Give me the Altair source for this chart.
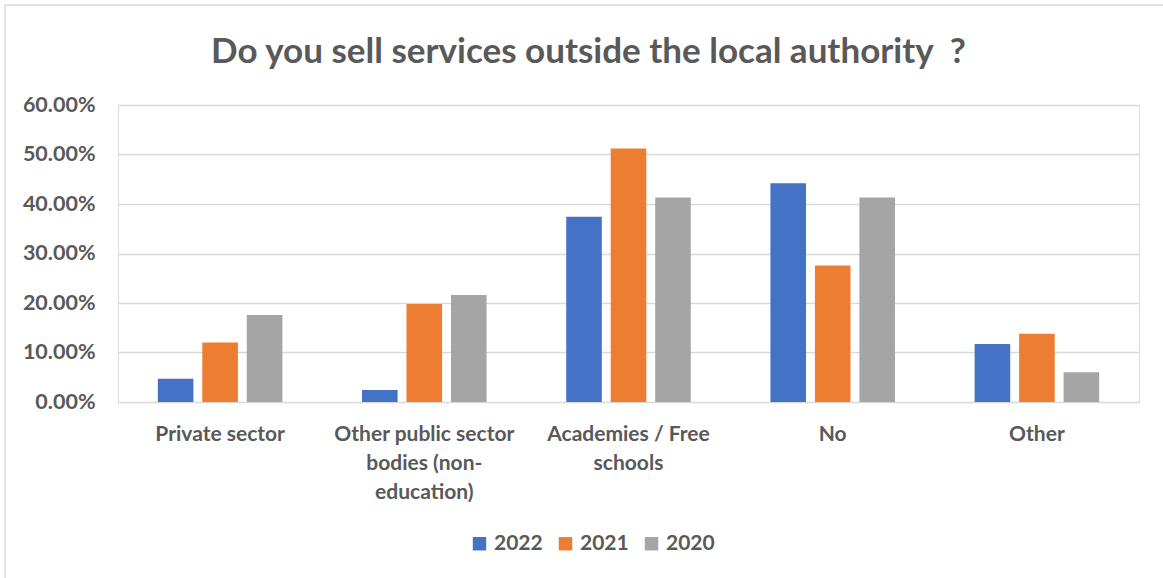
import altair as alt
import pandas as pd
import json

categories = ["Private sector", "Other public sector bodies (non-education)",
              "Academies / Free schools", "No", "Other"]
label_lines = [["Private sector"], ["Other public sector", "bodies (non-", "education)"],
               ["Academies / Free", "schools"], ["No"], ["Other"]]
years = ["2022", "2021", "2020"]
v2022 = [4.7, 2.4, 37.4, 44.2, 11.7]
v2021 = [12.0, 19.8, 51.2, 27.6, 13.8]
v2020 = [17.6, 21.6, 41.3, 41.3, 6.0]
colors = ["#4472C4", "#ED7D31", "#A5A5A5"]
y_ticks = [0, 0.1, 0.2, 0.3, 0.4, 0.5, 0.6]
title_text = "Do you sell services outside the local authority\u00a0 ?"

rows = []
for yr, vals in zip(years, [v2022, v2021, v2020]):
    for c, v in zip(categories, vals):
        rows.append({"category": c, "year": yr, "value": v / 100})
df = pd.DataFrame(rows)

parts = []
for c, lines in zip(categories, label_lines):
    parts.append(f"datum.value == {json.dumps(c)} ? {json.dumps(lines)} : ")
label_expr = "".join(parts) + "datum.value"

FONT = "Lato"
TXT = "#595959"
GRID = "#D9D9D9"

bars = alt.Chart(df).mark_bar().encode(
    x=alt.X("category:N", sort=categories, title=None,
            scale=alt.Scale(paddingInner=0.39, paddingOuter=0.195),
            axis=alt.Axis(labelAngle=0, domain=False, ticks=False, labelExpr=label_expr,
                          labelFont=FONT, labelFontSize=21, labelFontWeight="bold",
                          labelColor=TXT, labelPadding=21, labelLineHeight=29,
                          labelBaseline="top", labelLimit=300)),
    xOffset=alt.XOffset("year:N", sort=years, scale=alt.Scale(paddingInner=0.2, paddingOuter=0)),
    y=alt.Y("value:Q", title=None,
            scale=alt.Scale(domain=[0, 0.6], nice=False),
            axis=alt.Axis(values=y_ticks, format=".2%", domain=False, ticks=False,
                          labelFont=FONT, labelFontSize=21.5, labelFontWeight="bold",
                          labelColor=TXT, labelPadding=23, gridColor=GRID, gridWidth=1.5)),
    color=alt.Color("year:N", sort=years,
                    scale=alt.Scale(domain=years, range=colors),
                    legend=alt.Legend(title=None, orient="none", direction="horizontal",
                                      legendX=351, legendY=428, symbolType="square",
                                      symbolSize=180, symbolStrokeWidth=0,
                                      labelFont=FONT, labelFontSize=21, labelFontWeight="bold",
                                      labelColor=TXT, labelOffset=4, columnPadding=12)),
)

border_top = alt.Chart().mark_rule(color=GRID, strokeWidth=1.5).encode(
    x=alt.value(-113), x2=alt.value(1050), y=alt.value(-100))
border_left = alt.Chart().mark_rule(color=GRID, strokeWidth=1.5).encode(
    x=alt.value(-113), y=alt.value(-100), y2=alt.value(480))

chart = alt.layer(bars, border_top, border_left).properties(
    width=1021, height=297,
    autosize=alt.AutoSizeParams(type="none"),
    padding={"left": 118, "top": 105, "right": 24, "bottom": 176},
    title=alt.TitleParams(title_text,
                          font=FONT, fontSize=35, fontWeight="bold", color=TXT,
                          anchor="middle", dx=-40, offset=-66),
).configure_view(stroke=None).configure(background="white")

chart.save("out.html", embed_options={"renderer": "svg", "actions": False})
